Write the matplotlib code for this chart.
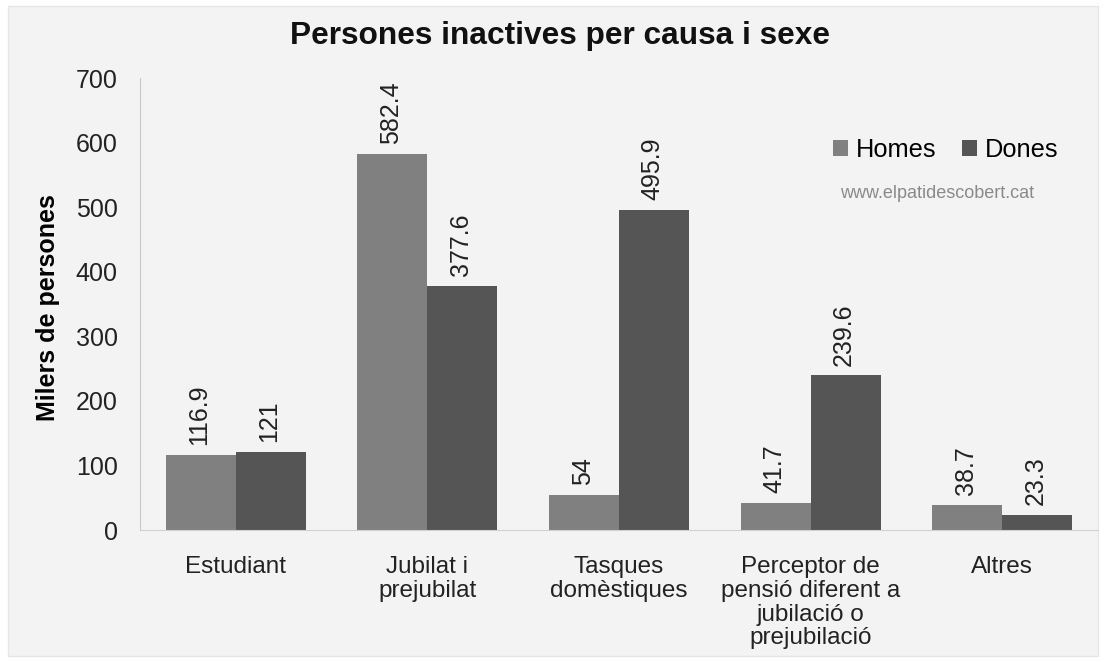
import matplotlib
matplotlib.use("Agg")
import matplotlib.pyplot as plt
import numpy as np
from matplotlib.patches import Rectangle

categories = ["Estudiant", "Jubilat i\nprejubilat", "Tasques\ndomèstiques",
              "Perceptor de\npensió diferent a\njubilació o\nprejubilació", "Altres"]
homes = [116.9, 582.4, 54, 41.7, 38.7]
dones = [121, 377.6, 495.9, 239.6, 23.3]
homes_labels = ["116.9", "582.4", "54", "41.7", "38.7"]
dones_labels = ["121", "377.6", "495.9", "239.6", "23.3"]
yticks = [0, 100, 200, 300, 400, 500, 600, 700]

plt.rcParams['font.family'] = ['Liberation Sans', 'DejaVu Sans']

fig = plt.figure(figsize=(11.04, 6.62), dpi=100)
fig.patch.set_facecolor('white')
bg = Rectangle((8 / 1104, 6 / 662), 1090 / 1104, 650 / 662, transform=fig.transFigure,
               facecolor='#f3f3f3', edgecolor='#e6e6e6', lw=1, zorder=-10)
fig.patches.append(bg)

ax = fig.add_axes([140 / 1104, 132 / 662, 958 / 1104, 452 / 662])
ax.set_facecolor('none')
ax.set_zorder(1)

x = np.arange(len(categories))
w = 0.365
c_h = '#808080'
c_d = '#555555'
b1 = ax.bar(x - w / 2, homes, w, color=c_h, label='Homes')
b2 = ax.bar(x + w / 2, dones, w, color=c_d, label='Dones')

for xi, v, t in zip(x - w / 2, homes, homes_labels):
    ax.annotate(t, (xi, v), xytext=(-1, 7), textcoords='offset points', rotation=90,
                ha='center', va='bottom', fontsize=18, color='#222222')
for xi, v, t in zip(x + w / 2, dones, dones_labels):
    ax.annotate(t, (xi, v), xytext=(-1, 7), textcoords='offset points', rotation=90,
                ha='center', va='bottom', fontsize=18, color='#222222')

ax.set_xlim(-0.5, len(categories) - 0.5)
ax.set_ylim(0, 700)
ax.set_yticks(yticks)
ax.set_yticklabels([str(t) for t in yticks], fontsize=18, color='#222222')
ax.set_xticks(x)
ax.set_xticklabels(categories, fontsize=17.5, color='#222222', linespacing=1.1)
ax.tick_params(axis='both', length=0)
ax.tick_params(axis='y', pad=16)
ax.tick_params(axis='x', pad=19)
for s in ['top', 'right']:
    ax.spines[s].set_visible(False)
ax.spines['left'].set_color('#c8c8c8')
ax.spines['bottom'].set_color('#d0d0d0')

ax.set_ylabel('Milers de persones', fontsize=18, fontweight='bold')
ax.yaxis.set_label_coords(-0.083, 0.493)
fig.text(0.507, 0.946, 'Persones inactives per causa i sexe', ha='center', va='center',
         fontsize=22.8, fontweight='bold', color='#111111')

leg = ax.legend(loc='center left', bbox_to_anchor=(833 / 1104, 1 - 150 / 662),
                bbox_transform=fig.transFigure, ncol=2, frameon=False,
                fontsize=18.3, handlelength=0.6, handleheight=0.6, handletextpad=0.3,
                columnspacing=1.0, borderpad=0, borderaxespad=0)
fig.text(937 / 1104, 1 - 193 / 662, 'www.elpatidescobert.cat', ha='center', va='center',
         fontsize=13, color='#8a8a8a')

fig.savefig('out.png', dpi=100, facecolor=fig.get_facecolor())
